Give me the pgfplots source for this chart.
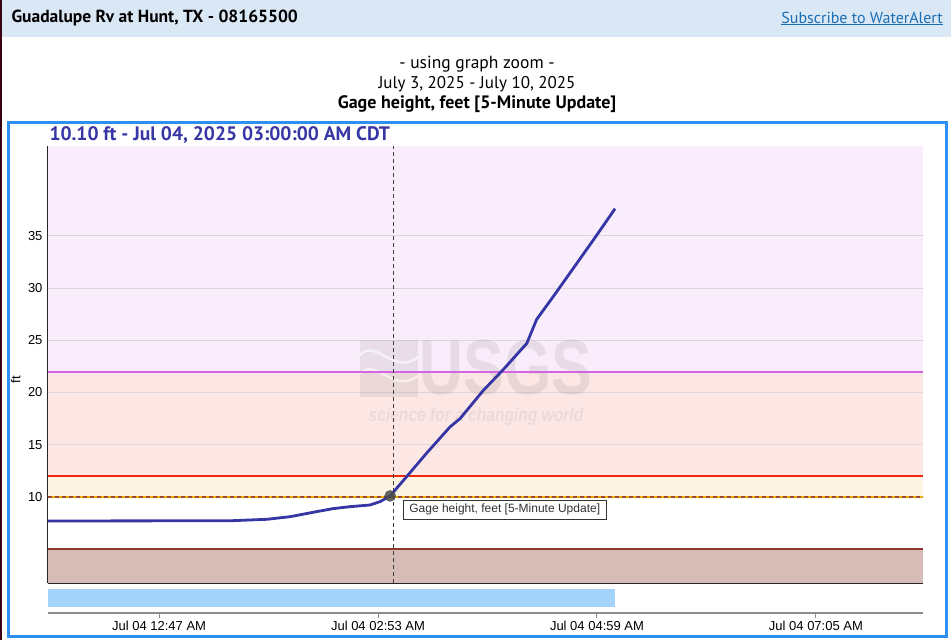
\documentclass[border=0pt]{standalone}
\usepackage{pgfplots}
\pgfplotsset{compat=1.18}
\usepackage{fontspec}
\setmainfont{Liberation Sans}
\newfontfamily\hdr{PT Sans}

\definecolor{hdrband}{HTML}{DAE7F5}
\definecolor{frameblue}{HTML}{2F8FF0}
\definecolor{titleblue}{HTML}{3636A6}
\definecolor{linkblue}{HTML}{1A6FB5}
\definecolor{dataline}{HTML}{3535A5}
\definecolor{lav}{HTML}{FAEDFB}
\definecolor{pinkband}{HTML}{FCE7E5}
\definecolor{cream}{HTML}{FCF3E3}
\definecolor{brownband}{HTML}{D7BBB6}
\definecolor{violetline}{HTML}{D566E3}
\definecolor{redline}{HTML}{F02A10}
\definecolor{brownline}{HTML}{8B3A2A}
\definecolor{dashbrown}{HTML}{9A4A30}
\definecolor{dashorange}{HTML}{F0B000}
\definecolor{gridc}{HTML}{DDD5DD}
\definecolor{navblue}{HTML}{A3D2FB}

% x = minutes after midnight, Jul 04 2025 (CDT)
\pgfplotstableread{
t     h
-16.9 7.70
40    7.71
89.6  7.73
109.1 7.86
122.4 8.11
137.9 8.60
147.1 8.88
156.9 9.07
168.4 9.23
174.2 9.55
180   10.10
189.5 11.95
201   14.2
214.4 16.7
220.2 17.5
233.6 20.2
245.1 22.2
258.6 24.7
264.3 27.0
273.9 29.2
285.4 31.9
296.9 34.6
309.4 37.6
}\gage

\newcommand{\px}[1]{\fontsize{#1}{#1}\selectfont}

\begin{document}
\begin{tikzpicture}
\begin{scope}[x=1pt,y=-1pt]
  \fill[white] (0,0) rectangle (951,640);
  \fill[hdrband] (2,0) rectangle (951,37);
  \fill[black!70!purple] (0,0) rectangle (1.6,640);
  \node[anchor=west, font=\hdr\bfseries\px{17.5}] at (8,18) {Guadalupe Rv at Hunt, TX - 08165500};
  \node[anchor=east, font=\hdr\px{16}, text=linkblue, inner xsep=0pt] (sub) at (943,18) {Subscribe to WaterAlert};
  \draw[linkblue, line width=0.8pt] ([yshift=-1pt]sub.base west) -- ([yshift=-1pt]sub.base east);
  \node[font=\hdr\px{17.5}] at (477,64) {- using graph zoom -};
  \node[font=\hdr\px{17}] at (477,84) {July 3, 2025 - July 10, 2025};
  \node[font=\hdr\bfseries\px{18}] at (477,104) {Gage height, feet [5-Minute Update]};
  \draw[frameblue, line width=3pt] (8.5,122.5) rectangle (946.5,636.5);
  \node[anchor=west, font=\hdr\bfseries\px{19.5}, text=titleblue] at (46,135) {10.10 ft - Jul 04, 2025 03:00:00 AM CDT};
\end{scope}

\begin{axis}[
  at={(48pt,-583pt)}, anchor=south west,
  scale only axis, width=875pt, height=437pt,
  xmin=-16.9, xmax=486.6, ymin=1.76, ymax=43.6,
  axis x line*=bottom, axis y line*=left,
  axis line style={draw=black!85, line width=1pt, -},
  xtick=\empty,
  ytick={10,15,...,35},
  major tick length=0pt,
  /pgf/number format/assume math mode=true,
  yticklabel style={font=\px{13}, xshift=-2pt},
  ylabel={ft}, ylabel style={font=\px{13}, at={(axis description cs:-0.037,0.465)}, anchor=center},
]
% threshold bands
\addplot[fill=brownband, draw=none] coordinates {(-16.9,1.76)(486.6,1.76)(486.6,5)(-16.9,5)} -- cycle;
\addplot[fill=cream, draw=none] coordinates {(-16.9,10)(486.6,10)(486.6,12)(-16.9,12)} -- cycle;
\addplot[fill=pinkband, draw=none] coordinates {(-16.9,12)(486.6,12)(486.6,22)(-16.9,22)} -- cycle;
\addplot[fill=lav, draw=none] coordinates {(-16.9,22)(486.6,22)(486.6,43.6)(-16.9,43.6)} -- cycle;
% horizontal grid
\pgfplotsinvokeforeach{15,20,25,30,35}{
  \addplot[gridc, line width=0.8pt] coordinates {(-16.9,#1)(486.6,#1)};
}
% watermark
\fill[gray, opacity=0.14] (axis cs:162.6,19.6) rectangle (axis cs:196,25);
\draw[white, opacity=0.6, line width=2.5pt] (axis cs:162.6,23.6) .. controls (axis cs:172,25.2) and (axis cs:182,21.6) .. (axis cs:196,23.4);
\draw[white, opacity=0.6, line width=2.5pt] (axis cs:162.6,21.8) .. controls (axis cs:172,23.4) and (axis cs:182,19.8) .. (axis cs:196,21.6);
\node[font=\bfseries\px{78}, text=gray, opacity=0.16, xscale=0.78, inner sep=0pt, text depth=0pt] at (axis cs:246.7,22.4) {USGS};
\node[font=\bfseries\itshape\px{19}, text=gray, opacity=0.12, xscale=0.82, inner sep=0pt] at (axis cs:229.4,17.7) {science for a changing world};
% threshold lines
\addplot[brownline, line width=1.5pt] coordinates {(-16.9,5)(486.6,5)};
\addplot[dashorange, line width=1.5pt] coordinates {(-16.9,10)(486.6,10)};
\addplot[dashbrown, line width=1.5pt, dash pattern=on 4pt off 3pt] coordinates {(-16.9,10)(486.6,10)};
\addplot[redline, line width=1.5pt] coordinates {(-16.9,12)(486.6,12)};
\addplot[violetline, line width=1.8pt] coordinates {(-16.9,22)(486.6,22)};
% crosshair
\addplot[black!75, line width=0.6pt, dash pattern=on 4pt off 3pt] coordinates {(181.6,1.76)(181.6,43.6)};
% gage height
\addplot[dataline, line width=2.8pt, line join=round] table[x=t, y=h] {\gage};
\addplot[only marks, mark=*, mark size=5.5pt, mark options={fill=black!70, draw=black!80, opacity=0.85}] coordinates {(180,10.1)};
\node[anchor=north west, draw=black!80, fill=white, font=\px{12}, text=black!80, inner xsep=6pt, inner ysep=4pt, line width=0.6pt] at (axis cs:187.4,9.75) {Gage height, feet [5-Minute Update]};
\end{axis}

% navigator strip with time axis
\begin{axis}[
  at={(48pt,-613pt)}, anchor=south west,
  scale only axis, width=875pt, height=24pt,
  xmin=-16.9, xmax=486.6, ymin=0, ymax=1,
  axis x line*=bottom, hide y axis,
  axis line style={draw=black!45, line width=1.5pt, -},
  xtick={47,173,299,425},
  xticklabels={Jul 04 12:47 AM, Jul 04 02:53 AM, Jul 04 04:59 AM, Jul 04 07:05 AM},
  tick align=outside, major tick length=5pt,
  tick style={draw=black!45, line width=1pt},
  xticklabel style={font=\px{13}},
]
\addplot[fill=navblue, draw=none] coordinates {(-16.9,0.25)(309.4,0.25)(309.4,1)(-16.9,1)} -- cycle;
\end{axis}
\end{tikzpicture}
\end{document}
